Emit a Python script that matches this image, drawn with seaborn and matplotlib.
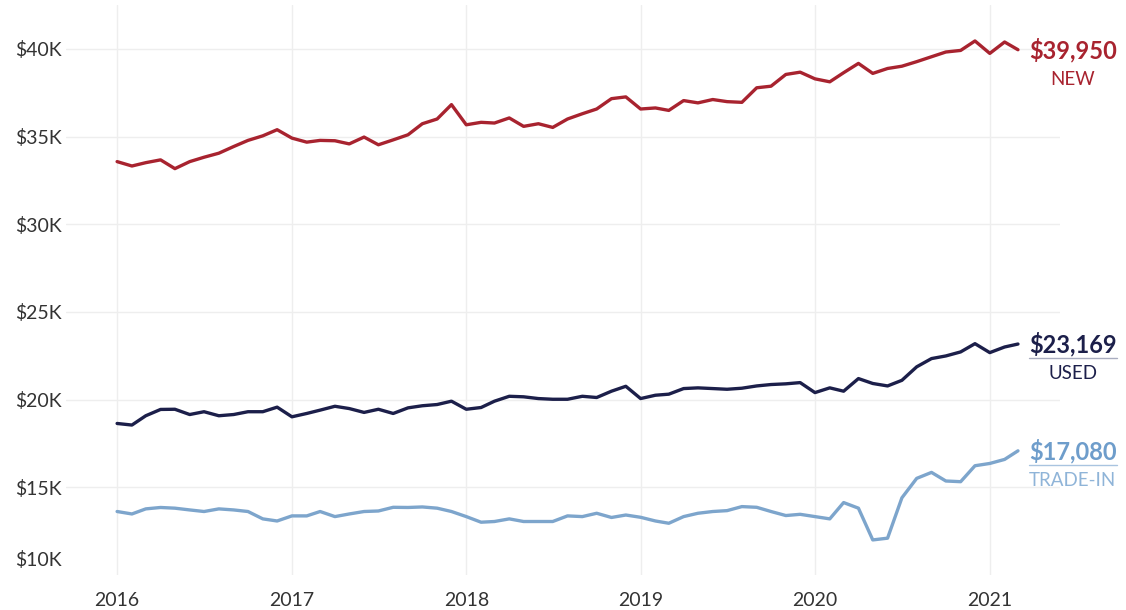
import numpy as np
import pandas as pd
import seaborn as sns
import matplotlib.pyplot as plt
from matplotlib.lines import Line2D

# Monthly average transaction prices, Jan 2016 - Mar 2021 (thousands of dollars)
months = pd.date_range("2016-01-01", "2021-03-01", freq="MS")

new_price = [33.57, 33.32, 33.51, 33.67, 33.17, 33.57, 33.82, 34.05, 34.43, 34.78,
             35.04, 35.39, 34.91, 34.68, 34.78, 34.76, 34.58, 34.97, 34.53, 34.81,
             35.10, 35.73, 36.00, 36.82, 35.67, 35.81, 35.77, 36.06, 35.58, 35.73,
             35.52, 36.00, 36.30, 36.57, 37.16, 37.26, 36.57, 36.63, 36.49, 37.05,
             36.92, 37.11, 36.99, 36.95, 37.78, 37.87, 38.54, 38.67, 38.29, 38.12,
             38.64, 39.17, 38.60, 38.88, 39.01, 39.27, 39.55, 39.82, 39.91, 40.45,
             39.74, 40.39, 39.95]

used_price = [18.64, 18.55, 19.08, 19.44, 19.45, 19.15, 19.31, 19.08, 19.15, 19.31,
              19.31, 19.57, 19.02, 19.21, 19.40, 19.62, 19.49, 19.27, 19.45, 19.21,
              19.53, 19.65, 19.72, 19.91, 19.45, 19.55, 19.91, 20.19, 20.16, 20.06,
              20.02, 20.02, 20.19, 20.12, 20.48, 20.76, 20.06, 20.25, 20.31, 20.63,
              20.67, 20.63, 20.59, 20.65, 20.78, 20.86, 20.90, 20.97, 20.40, 20.67,
              20.48, 21.20, 20.92, 20.78, 21.10, 21.87, 22.34, 22.49, 22.72, 23.19,
              22.68, 23.00, 23.169]

trade_in_price = [13.62, 13.48, 13.77, 13.85, 13.81, 13.71, 13.62, 13.77, 13.71, 13.62,
                  13.20, 13.08, 13.37, 13.37, 13.62, 13.33, 13.48, 13.62, 13.65, 13.86,
                  13.85, 13.88, 13.81, 13.62, 13.33, 13.01, 13.05, 13.20, 13.05, 13.05,
                  13.05, 13.37, 13.33, 13.52, 13.28, 13.42, 13.29, 13.08, 12.95, 13.33,
                  13.52, 13.62, 13.67, 13.90, 13.86, 13.62, 13.39, 13.46, 13.33, 13.20,
                  14.13, 13.81, 12.00, 12.10, 14.40, 15.51, 15.85, 15.36, 15.32, 16.23,
                  16.36, 16.59, 17.08]

segments = ["NEW", "USED", "TRADE-IN"]
end_labels = ["$39,950", "$23,169", "$17,080"]
year_ticks = [2016, 2017, 2018, 2019, 2020, 2021]
price_ticks = [15000, 20000, 25000, 30000, 35000, 40000]

line_colors = {"NEW": "#A8232F", "USED": "#1C1F4A", "TRADE-IN": "#7DA5CC"}
value_colors = {"NEW": "#A8232F", "USED": "#1C1F4A", "TRADE-IN": "#6E9DCB"}
name_colors = {"NEW": "#A8232F", "USED": "#1C1F4A", "TRADE-IN": "#8FB4D8"}
underline_colors = {"USED": "#A9ADC0", "TRADE-IN": "#A9C4E0"}

df = pd.DataFrame({
    "month": np.tile(months, 3),
    "price": np.concatenate([new_price, used_price, trade_in_price]) * 1000,
    "segment": np.repeat(segments, len(months)),
})

sns.set_theme(style="white")
plt.rcParams["font.family"] = ["Lato", "DejaVu Sans"]

W, H = 1126, 610
fig = plt.figure(figsize=(W / 100, H / 100), dpi=100)
ax = fig.add_axes([66 / W, 35 / H, 994 / W, 570 / H])

sns.lineplot(data=df, x="month", y="price", hue="segment", palette=line_colors,
             linewidth=2.4, legend=False, ax=ax, zorder=3)

x0 = pd.Timestamp("2016-01-01")
ax.set_xlim(x0 - pd.Timedelta(days=107), x0 + pd.Timedelta(days=1974))
ax.set_ylim(10000, 42500)

ax.set_xticks([pd.Timestamp(f"{y}-01-01") for y in year_ticks])
ax.set_xticklabels([str(y) for y in year_ticks])
ax.set_yticks(price_ticks)
ax.set_yticklabels([f"${v // 1000}K" for v in price_ticks])

ax.grid(True, color="#EEEEEE", linewidth=1.0, zorder=0)
for s in ax.spines.values():
    s.set_visible(False)
tick_size = 14
ax.tick_params(axis="both", length=0, labelsize=tick_size, labelcolor="#333333")
ax.tick_params(axis="x", pad=12)
ax.tick_params(axis="y", pad=3)
ax.set_xlabel("")
ax.set_ylabel("")

# bottom value label sits just above the plot floor
ax.annotate("$10K", xy=(0, 10000), xycoords=("axes fraction", "data"),
            xytext=(-4, 15), textcoords="offset pixels", ha="right", va="center",
            fontsize=tick_size, color="#333333")

# end-of-line value and segment labels
series_vals = {"NEW": new_price, "USED": used_price, "TRADE-IN": trade_in_price}
value_texts = {}
for seg, lab in zip(segments, end_labels):
    t = ax.annotate(lab, xy=(months[-1], series_vals[seg][-1] * 1000),
                    xytext=(11, 0), textcoords="offset pixels",
                    ha="left", va="center", fontsize=17, fontweight="bold",
                    color=value_colors[seg], annotation_clip=False)
    value_texts[seg] = t

fig.canvas.draw()
inv = fig.transFigure.inverted()
for seg in segments:
    bb = value_texts[seg].get_window_extent()
    cx = (bb.x0 + bb.x1) / 2
    fx, fy = inv.transform((cx, bb.y0 - 17))
    fig.text(fx, fy, seg, ha="center", va="center", fontsize=13.5,
             color=name_colors[seg])
    if seg in underline_colors:
        (ax0, ly), (ax1, _) = inv.transform([(bb.x0, bb.y0 - 2), (bb.x1, bb.y0 - 2)])
        fig.add_artist(Line2D([ax0, ax1], [ly, ly], transform=fig.transFigure,
                              color=underline_colors[seg], linewidth=1.0))

fig.savefig("out.png", dpi=100, facecolor="white")
